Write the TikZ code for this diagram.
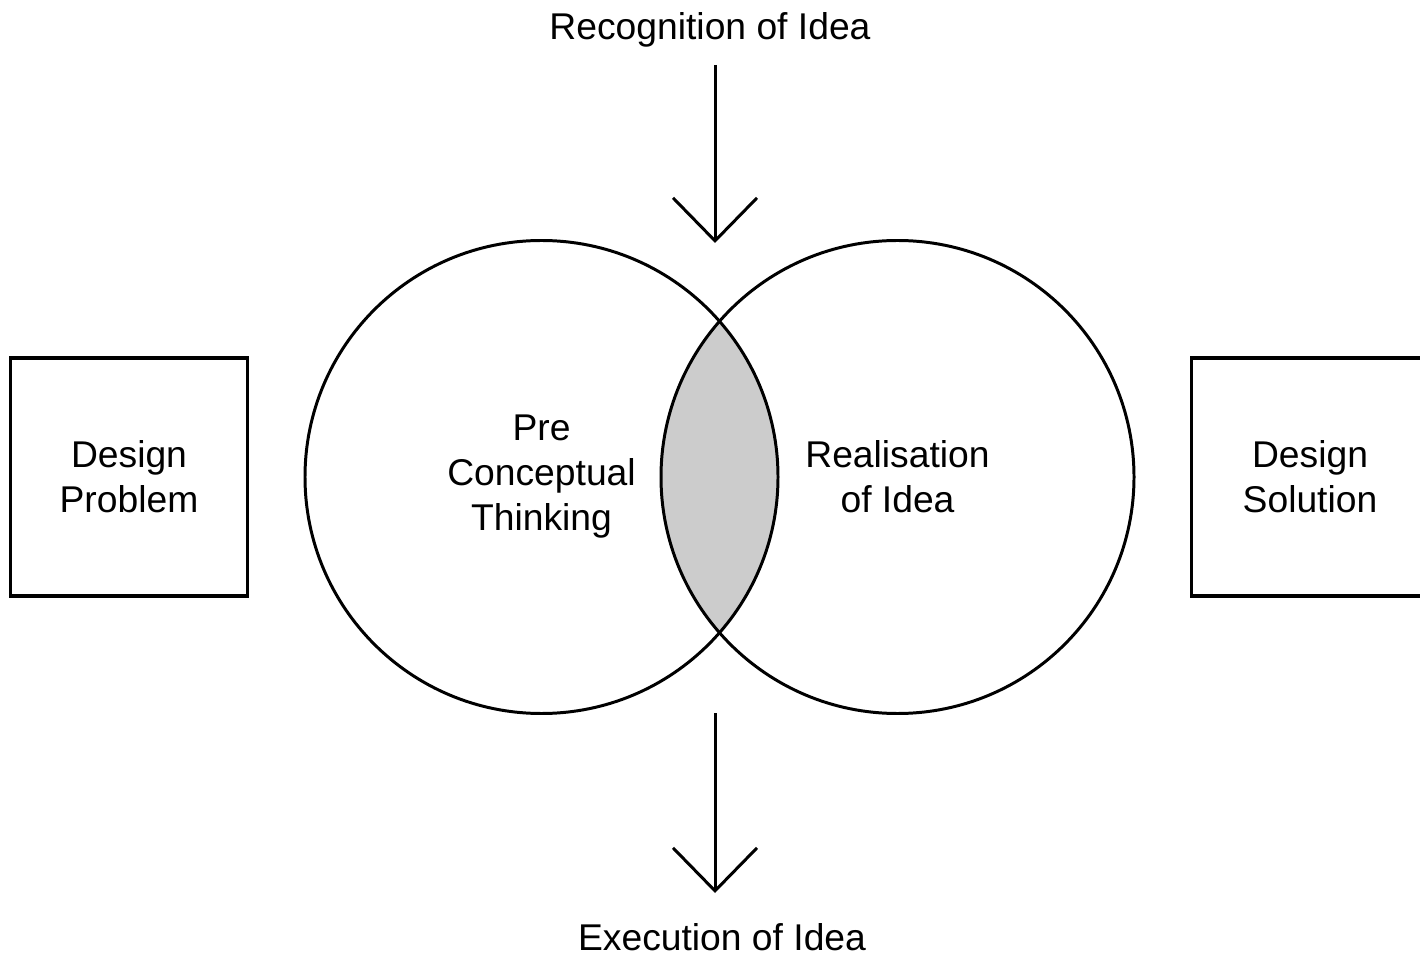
\documentclass[tikz,border=0pt]{standalone}
\usepackage{fontspec}
\setmainfont{Liberation Sans}
\usetikzlibrary{arrows.meta}

\begin{document}
\begin{tikzpicture}[
        font=\fontsize{10.6}{12.8}\selectfont,
        line width=0.85pt,
        box/.style={draw,line width=1pt,minimum width=2.37cm,minimum height=2.38cm,align=center},
        ring/.style={circle,draw,minimum size=4.73cm,align=center},
        arr/.style={-{Straight Barb[length=4.3mm,width=8.4mm]}}]
        \clip(0,0)rectangle(14.2,-9.56);

        % the two overlapping circles
        \begin{scope}
            \clip(5.415,-4.77)circle(2.365);
            \fill[gray!40](8.975,-4.77)circle(2.375);
        \end{scope}
        \node[ring](pre)at(5.415,-4.77){Pre\\Conceptual\\Thinking};
        \node[ring](real)at(8.975,-4.77){Realisation\\of Idea};

        \node[box](prob)at(1.29,-4.77){Design\\Problem};
        \node[box](sol)at(13.1,-4.77){Design\\Solution};

        \node(recog)at(7.10,-0.30){Recognition of Idea};
        \node(exec)at(7.22,-9.37){Execution of Idea};

        \coordinate(inA)at(7.15,-0.65);
        \coordinate(inB)at(7.15,-2.43);
        \coordinate(outA)at(7.15,-7.13);
        \coordinate(outB)at(7.15,-8.93);
        \draw[arr](inA)--(inB);
        \draw[arr](outA)--(outB);
    \end{tikzpicture}
\end{document}
